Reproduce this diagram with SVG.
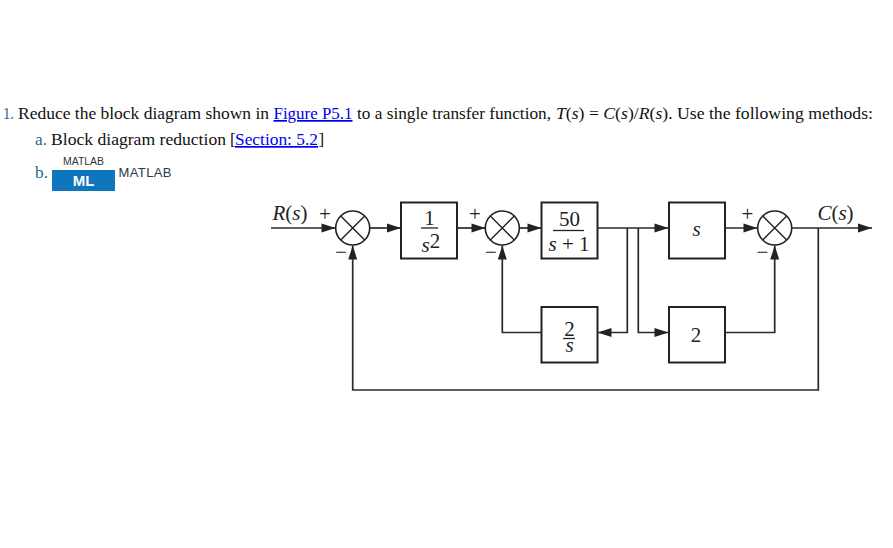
<svg xmlns="http://www.w3.org/2000/svg" width="893" height="548" viewBox="0 0 893 548">
<style>
.t{font-family:"Liberation Serif",serif;font-size:17px;fill:#111}
.n{font-family:"Liberation Serif",serif;font-size:17px;fill:#2a6a8f}
.l{font-family:"Liberation Serif",serif;font-size:17px;fill:#0000ee;text-decoration:underline}
.s{font-family:"Liberation Sans",sans-serif}
.d{font-family:"Liberation Serif",serif;font-size:21px;fill:#222;text-anchor:middle}
.i{font-style:italic}
.b{fill:#fff;stroke:#222;stroke-width:2}
.c{fill:#fff;stroke:#222;stroke-width:1.6}
.x{stroke:#222;stroke-width:1.4;fill:none}
.a{fill:none;stroke:#2a2a2a;stroke-width:1.7;marker-end:url(#ah)}
.f{stroke:#222;stroke-width:1.3}
</style>
<defs><marker id="ah" markerUnits="userSpaceOnUse" markerWidth="15" markerHeight="10" refX="14" refY="4.500" orient="auto" overflow="visible"><path d="M0 0L14 4.500L0 9Z" fill="#222"/></marker></defs>
<rect width="893" height="548" fill="#fff"/>
<g id="question">
<text class="n" x="3" y="119" textLength="11" lengthAdjust="spacingAndGlyphs">1.</text>
<text class="t" x="18" y="119" textLength="251" lengthAdjust="spacingAndGlyphs">Reduce the block diagram shown in</text>
<text class="l" x="273.500" y="119" textLength="79" lengthAdjust="spacingAndGlyphs">Figure P5.1</text>
<text class="t" x="357" y="119" textLength="194" lengthAdjust="spacingAndGlyphs">to a single transfer function,</text>
<text class="t" x="556" y="119" textLength="317" lengthAdjust="spacingAndGlyphs"><tspan class="i">T</tspan>(<tspan class="i">s</tspan>) = <tspan class="i">C</tspan>(<tspan class="i">s</tspan>)/<tspan class="i">R</tspan>(<tspan class="i">s</tspan>). Use the following methods:</text>
<text class="n" x="35" y="145" textLength="12" lengthAdjust="spacingAndGlyphs">a.</text>
<text class="t" x="51" y="145" textLength="175" lengthAdjust="spacingAndGlyphs">Block diagram reduction</text>
<text class="t" x="230" y="145">[</text>
<text class="l" x="235" y="145" textLength="83" lengthAdjust="spacingAndGlyphs">Section: 5.2</text>
<text class="t" x="318.500" y="145">]</text>
<text class="n" x="35" y="178" textLength="13" lengthAdjust="spacingAndGlyphs">b.</text>
</g>
<g id="matlab-badge">
<rect x="52" y="170" width="63" height="21" fill="#0f75bc"/>
<text class="s" x="83.500" y="165" font-size="11" fill="#333" text-anchor="middle" textLength="41" lengthAdjust="spacingAndGlyphs">MATLAB</text>
<text class="s" x="83.500" y="186" font-size="15" font-weight="700" fill="#fff" text-anchor="middle">ML</text>
<text class="s" x="118.500" y="177" font-size="13" fill="#2b3a44" textLength="53" lengthAdjust="spacing">MATLAB</text>
</g>
<g id="connectors">
<path class="a" d="M271 228H335.500"/>
<path class="a" d="M370 228H401"/>
<path class="a" d="M457 228H485.500"/>
<path class="a" d="M519.500 228H541.500"/>
<path class="a" d="M597.500 228H668.500"/>
<path class="a" d="M725 228H757.500"/>
<path class="a" d="M792 228H872"/>
<path class="a" d="M818.300 228V390H352.700V245.500"/>
<path class="a" d="M541.500 332.500H502.300V245.500"/>
<path class="a" d="M627.300 228V332.500H597.500"/>
<path class="a" d="M638.300 228V332.500H668.500"/>
<path class="a" d="M725 332.500H774.700V245.500"/>
</g>
<g id="sum1"><circle class="c" cx="352.700" cy="228" r="17"/><path class="x" d="M340.700 216L364.700 240M364.700 216L340.700 240"/></g>
<g id="sum2"><circle class="c" cx="502.300" cy="228" r="17"/><path class="x" d="M490.300 216L514.300 240M514.300 216L490.300 240"/></g>
<g id="sum3"><circle class="c" cx="774.700" cy="228" r="17"/><path class="x" d="M762.700 216L786.700 240M786.700 216L762.700 240"/></g>
<g id="block-1-s2"><rect class="b" x="401" y="202.500" width="56" height="56"/><text class="d" x="429.500" y="225">1</text><path class="f" d="M421 228H438"/><text class="d i" x="425.500" y="252" font-size="22">s</text><text class="d" x="435" y="248" font-size="16">2</text></g>
<g id="block-50"><rect class="b" x="541.500" y="202.500" width="56" height="56"/><text class="d" x="569.500" y="226">50</text><path class="f" d="M553 230.500H584"/><text class="d" x="569" y="251"><tspan class="i">s</tspan> + 1</text></g>
<g id="block-s"><rect class="b" x="669" y="202.500" width="56" height="56"/><text class="d i" x="696.500" y="236" font-size="22">s</text></g>
<g id="block-2s"><rect class="b" x="541.500" y="307" width="56" height="55.500"/><text class="d" x="569.500" y="336" font-size="23">2</text><path class="f" d="M563 338.500H575"/><text class="d i" x="569.500" y="352" font-size="22">s</text></g>
<g id="block-2"><rect class="b" x="669" y="307" width="56" height="55.500"/><text class="d" x="696" y="342">2</text></g>
<g id="labels">
<text class="d" x="290" y="220"><tspan class="i">R</tspan>(<tspan class="i">s</tspan>)</text>
<text class="d" x="325" y="221" font-size="20">+</text>
<text class="d" x="475" y="221" font-size="20">+</text>
<text class="d" x="747.500" y="221" font-size="20">+</text>
<text class="d" x="835.500" y="220"><tspan class="i">C</tspan>(<tspan class="i">s</tspan>)</text>
<text class="d" x="341" y="259" font-size="20">−</text>
<text class="d" x="491" y="259" font-size="20">−</text>
<text class="d" x="762.500" y="259" font-size="20">−</text>
</g>
</svg>
